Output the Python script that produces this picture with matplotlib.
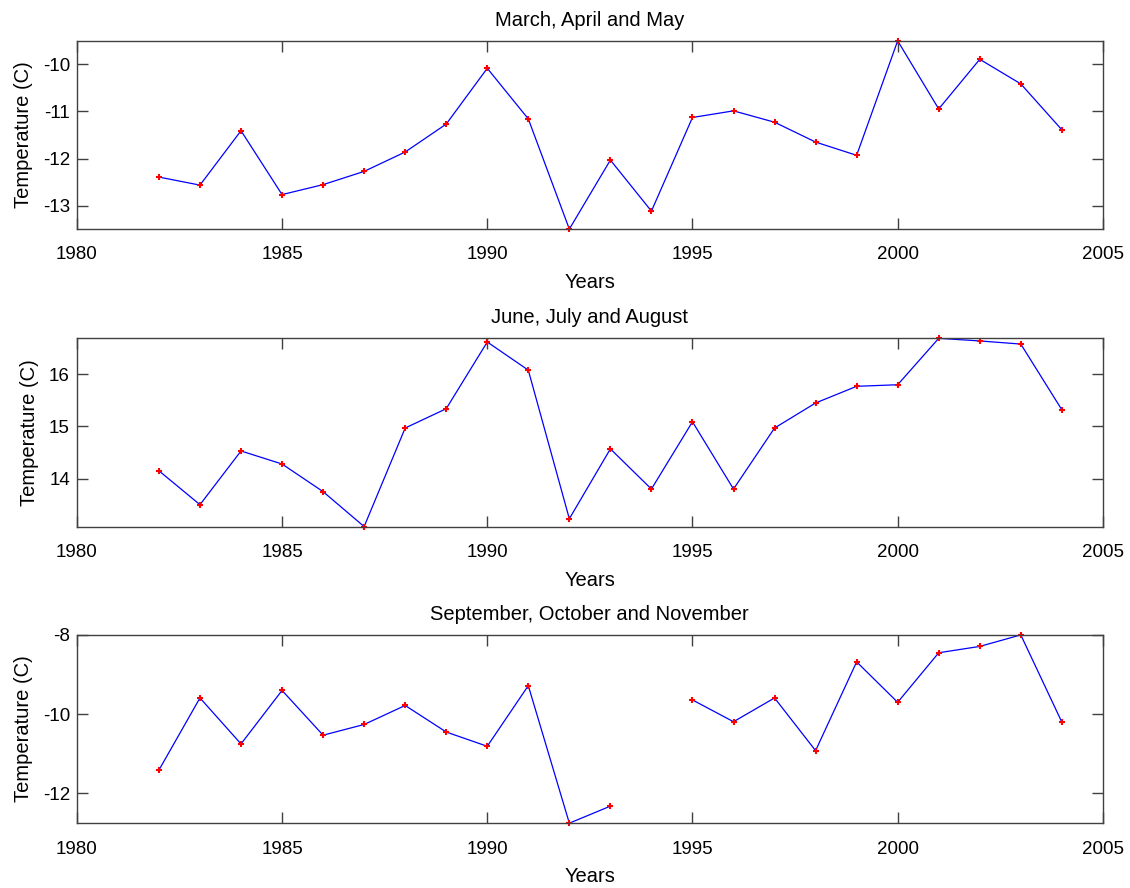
import numpy as np
import matplotlib
matplotlib.use("Agg")
import matplotlib.pyplot as plt

plt.rcParams['font.family'] = ['Liberation Sans', 'DejaVu Sans']
plt.rcParams['axes.unicode_minus'] = False

years = np.arange(1982, 2005)

# seasonal mean temperatures (C)
spring = [-12.39, -12.56, -11.41, -12.76, -12.55, -12.27, -11.86, -11.27, -10.09, -11.16,
          -13.49, -12.03, -13.11, -11.13, -10.99, -11.23, -11.65, -11.93, -9.51, -10.95,
          -9.90, -10.42, -11.39]
summer = [14.15, 13.50, 14.53, 14.28, 13.75, 13.08, 14.97, 15.34, 16.62, 16.08,
          13.23, 14.57, 13.80, 15.09, 13.80, 14.97, 15.45, 15.77, 15.80, 16.69,
          16.64, 16.58, 15.32]
autumn = [-11.41, -9.59, -10.75, -9.40, -10.53, -10.26, -9.78, -10.45, -10.81, -9.28,
          -12.75, -12.32, np.nan, -9.64, -10.19, -9.59, -10.92, -8.68, -9.70, -8.45,
          -8.29, -8.00, -10.20]

titles = ["March, April and May", "June, July and August",
          "September, October and November"]
yticks = [[-13, -12, -11, -10], [14, 15, 16], [-12, -10, -8]]
xticks = [1980, 1985, 1990, 1995, 2000, 2005]

fig = plt.figure(figsize=(11.3, 8.88), dpi=100)
bottoms = [0.742, 0.407, 0.073]

for series, title, yt, b in zip([spring, summer, autumn], titles, yticks, bottoms):
    ax = fig.add_axes([0.068, b, 0.908, 0.212])
    y = np.array(series)
    ax.plot(years, y, color='blue', linewidth=0.9, clip_on=False)
    ax.plot(years, y, linestyle='none', marker='+', color='red', markersize=4,
            markeredgewidth=1.5, clip_on=False)
    ax.set_xlim(1980, 2005)
    ax.set_ylim(np.nanmin(y), np.nanmax(y))
    ax.set_xticks(xticks)
    ax.set_yticks(yt)
    ax.tick_params(direction='in', length=8, width=1, top=True, right=True,
                   labelsize=13.5, colors='#404040', labelcolor='black')
    ax.tick_params(axis='x', pad=12.5)
    ax.tick_params(axis='y', pad=5)
    for s in ax.spines.values():
        s.set_color('#404040')
        s.set_linewidth(1)
    ax.set_title(title, fontsize=14.5, pad=11)
    ax.set_xlabel("Years", fontsize=14.5, labelpad=7)
    ax.set_ylabel("Temperature (C)", fontsize=14.5, labelpad=7)

fig.savefig("out.png", dpi=100)
